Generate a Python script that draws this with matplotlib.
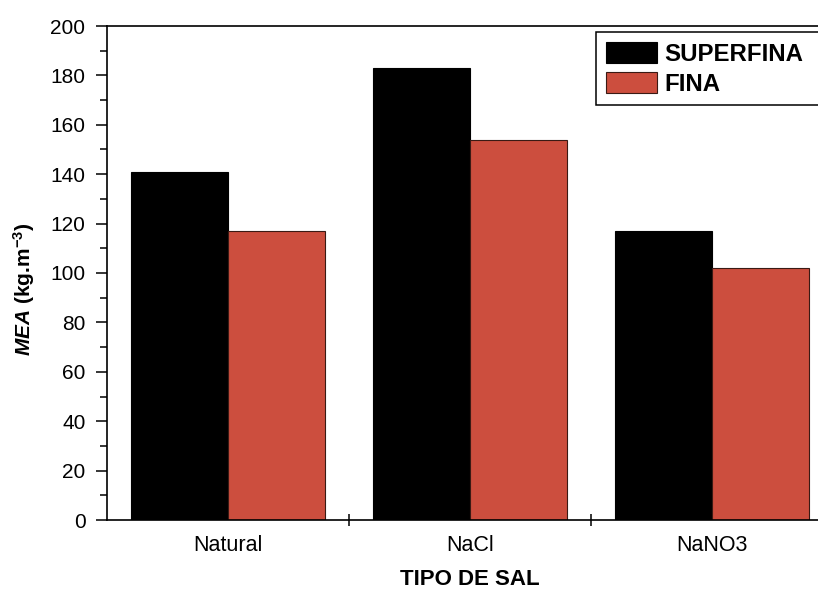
import matplotlib
matplotlib.use("Agg")
import matplotlib.pyplot as plt
from matplotlib.ticker import MultipleLocator

# MEA by salt type and grain size
salts = ["Natural", "NaCl", "NaNO3"]
superfina = [141, 183, 117]
fina = [117, 154, 102]

plt.rcParams["font.family"] = ["Liberation Sans", "DejaVu Sans"]
plt.rcParams["mathtext.fontset"] = "custom"
plt.rcParams["mathtext.rm"] = "Liberation Sans:bold"
plt.rcParams["mathtext.it"] = "Liberation Sans:italic:bold"
plt.rcParams["mathtext.bf"] = "Liberation Sans:bold"

fig = plt.figure(figsize=(8.18, 5.89), dpi=100)
# axes runs a bit past the right edge of the figure
ax = fig.add_axes([107 / 818, 69 / 589, 726 / 818, 494 / 589])

x = list(range(len(salts)))
w = 0.4
ax.bar([i - w / 2 for i in x], superfina, w, color="black", edgecolor="black",
       linewidth=0.8, label="SUPERFINA")
ax.bar([i + w / 2 for i in x], fina, w, color="#CC4E3E", edgecolor="#3a1a14",
       linewidth=0.8, label="FINA")

ax.set_xlim(-0.5, 2.5)
ax.set_ylim(0, 200)
ax.yaxis.set_major_locator(MultipleLocator(20))
ax.yaxis.set_minor_locator(MultipleLocator(10))
ax.tick_params(axis="y", which="major", direction="out", length=8, width=1.1,
               labelsize=15, pad=7.5)
ax.tick_params(axis="y", which="minor", direction="out", length=5, width=1.1)

ax.set_xticks([0.5, 1.5])
ax.set_xticklabels([])
ax.set_xticks(x, minor=True)
ax.set_xticklabels(salts, minor=True)
ax.tick_params(axis="x", which="major", direction="inout", length=9, width=1.1)
ax.tick_params(axis="x", which="minor", length=0, labelsize=15.5, pad=11)

for s in ax.spines.values():
    s.set_linewidth(1.2)

ax.set_xlabel("TIPO DE SAL", fontsize=16, fontweight="bold", labelpad=9)
ax.set_ylabel(r"$\mathit{MEA}$ (kg.m$^{-3}$)", fontsize=15, fontweight="bold")
ax.yaxis.set_label_coords(-0.097, 0.466)

# legend box is wide enough to run off the right edge
leg = ax.legend(loc="upper left", mode="expand",
                bbox_to_anchor=(596 / 818, 1 - 32 / 589, 0.4, 0),
                bbox_transform=fig.transFigure, frameon=True, fancybox=False,
                edgecolor="black", framealpha=1, borderaxespad=0,
                prop={"size": 17.3, "weight": "bold"}, handlelength=2.12,
                handleheight=1.0, handletextpad=0.33, labelspacing=0.25,
                borderpad=0.4)
leg.get_frame().set_linewidth(1.1)

fig.savefig("out.png", dpi=100)
